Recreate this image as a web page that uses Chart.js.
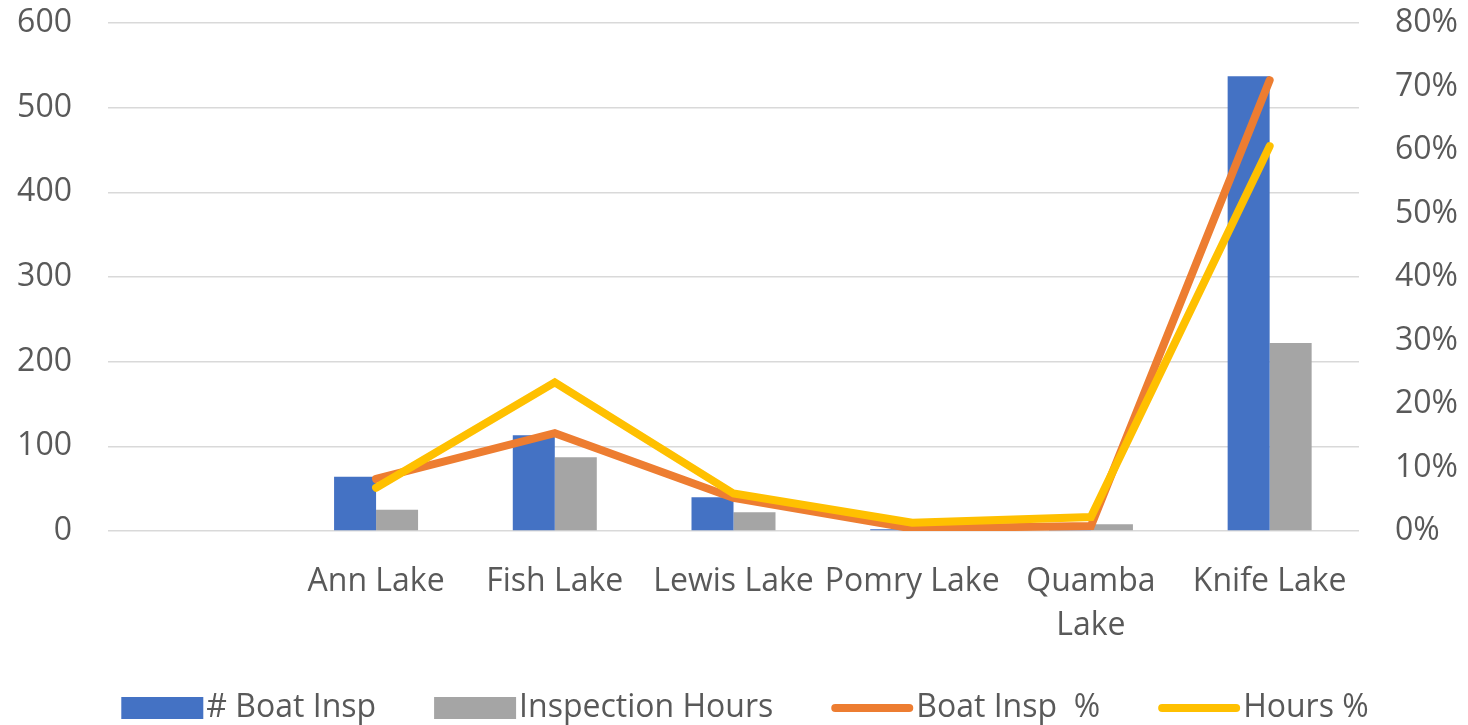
<!DOCTYPE html>
<html>
<head>
<meta charset="utf-8">
<script src="https://cdn.jsdelivr.net/npm/chart.js@4.4.1/dist/chart.umd.min.js"></script>
<style>
  html, body { margin: 0; padding: 0; background: #ffffff; }
  #wrap { width: 1468px; height: 725px; }
</style>
</head>
<body>
<div id="wrap"><canvas id="c" width="1468" height="725"></canvas></div>
<script>
const categories = ['', 'Ann Lake', 'Fish Lake', 'Lewis Lake', 'Pomry Lake', ['Quamba', 'Lake'], 'Knife Lake'];
const boatInsp = [null, 64, 113, 40, 2, 5, 537];
const inspectionHours = [null, 25, 87, 22, 4, 8, 222];
const boatInspPct = [null, 8.2, 15.4, 5.2, 0.4, 0.8, 71.0];
const hoursPct = [null, 6.8, 23.4, 5.9, 1.3, 2.2, 60.6];
const leftTicks = [0, 100, 200, 300, 400, 500, 600];
const rightTicks = [0, 10, 20, 30, 40, 50, 60, 70, 80];

const FONT = "'Open Sans', sans-serif";
const TICK_COLOR = '#595959';

// Bottom legend drawn with the chart's own dataset labels/colours
const bottomLegend = {
  id: 'bottomLegend',
  afterDraw(chart) {
    const ctx = chart.ctx;
    const ds = chart.data.datasets;
    const fontSize = 32;
    const swatchW = 82, swatchH = 22, textGap = 3, itemGap = 58;
    ctx.save();
    ctx.font = fontSize + "px " + FONT;
    const widths = ds.map(d => swatchW + textGap + ctx.measureText(d.label).width);
    const total = widths.reduce((a, b) => a + b, 0) + itemGap * (ds.length - 1);
    let x = 745 - total / 2;
    const cy = 708;
    ds.forEach((d, i) => {
      if (d.type === 'line') {
        ctx.strokeStyle = d.borderColor;
        ctx.lineWidth = 8;
        ctx.lineCap = 'round';
        ctx.beginPath();
        ctx.moveTo(x + 4, cy);
        ctx.lineTo(x + swatchW - 4, cy);
        ctx.stroke();
      } else {
        ctx.fillStyle = d.backgroundColor;
        ctx.fillRect(x, cy - swatchH / 2, swatchW, swatchH);
      }
      ctx.fillStyle = TICK_COLOR;
      ctx.textBaseline = 'middle';
      ctx.textAlign = 'left';
      ctx.fillText(d.label, x + swatchW + textGap, cy);
      x += widths[i] + itemGap;
    });
    ctx.restore();
  }
};

new Chart(document.getElementById('c'), {
  data: {
    labels: categories,
    datasets: [
      { type: 'bar', label: '# Boat Insp', data: boatInsp, backgroundColor: '#4472C4', yAxisID: 'y', order: 2 },
      { type: 'bar', label: 'Inspection Hours', data: inspectionHours, backgroundColor: '#A5A5A5', yAxisID: 'y', order: 2 },
      { type: 'line', label: 'Boat Insp  %', data: boatInspPct, borderColor: '#ED7D31', backgroundColor: '#ED7D31',
        borderWidth: 8, pointRadius: 0, borderCapStyle: 'round', borderJoinStyle: 'miter', yAxisID: 'y1', order: 1, tension: 0 },
      { type: 'line', label: 'Hours %', data: hoursPct, borderColor: '#FFC000', backgroundColor: '#FFC000',
        borderWidth: 8, pointRadius: 0, borderCapStyle: 'round', borderJoinStyle: 'miter', yAxisID: 'y1', order: 0, tension: 0 }
    ]
  },
  plugins: [bottomLegend],
  options: {
    responsive: false,
    animation: false,
    datasets: { bar: { categoryPercentage: 0.47, barPercentage: 1.0 } },
    layout: { padding: { top: 23, bottom: 70, left: 0, right: 0 } },
    plugins: {
      tooltip: { enabled: false },
      legend: { display: false }
    },
    scales: {
      x: {
        grid: { display: false },
        border: { display: false },
        ticks: { autoSkip: false, maxRotation: 0, minRotation: 0, font: { family: FONT, size: 32, lineHeight: 1.4 }, color: TICK_COLOR, padding: 20 },
        afterFit: (s) => { s.height = 124; s.paddingLeft = 0; s.paddingRight = 0; }
      },
      y: {
        position: 'left',
        min: 0, max: 600,
        afterBuildTicks: (s) => { s.ticks = leftTicks.map(v => ({ value: v })); },
        grid: { color: '#D9D9D9', lineWidth: 1.5, drawTicks: false },
        border: { display: false },
        ticks: { font: { family: FONT, size: 32 }, color: TICK_COLOR, padding: 36 },
        afterFit: (s) => { s.width = 108; s.paddingTop = 0; s.paddingBottom = 0; }
      },
      y1: {
        position: 'right',
        min: 0, max: 80,
        afterBuildTicks: (s) => { s.ticks = rightTicks.map(v => ({ value: v })); },
        grid: { display: false, drawTicks: false },
        border: { display: false },
        ticks: { font: { family: FONT, size: 32 }, color: TICK_COLOR, padding: 36, callback: (v) => v + '%' },
        afterFit: (s) => { s.width = 109; s.paddingTop = 0; s.paddingBottom = 0; }
      }
    }
  }
});
</script>
</body>
</html>
